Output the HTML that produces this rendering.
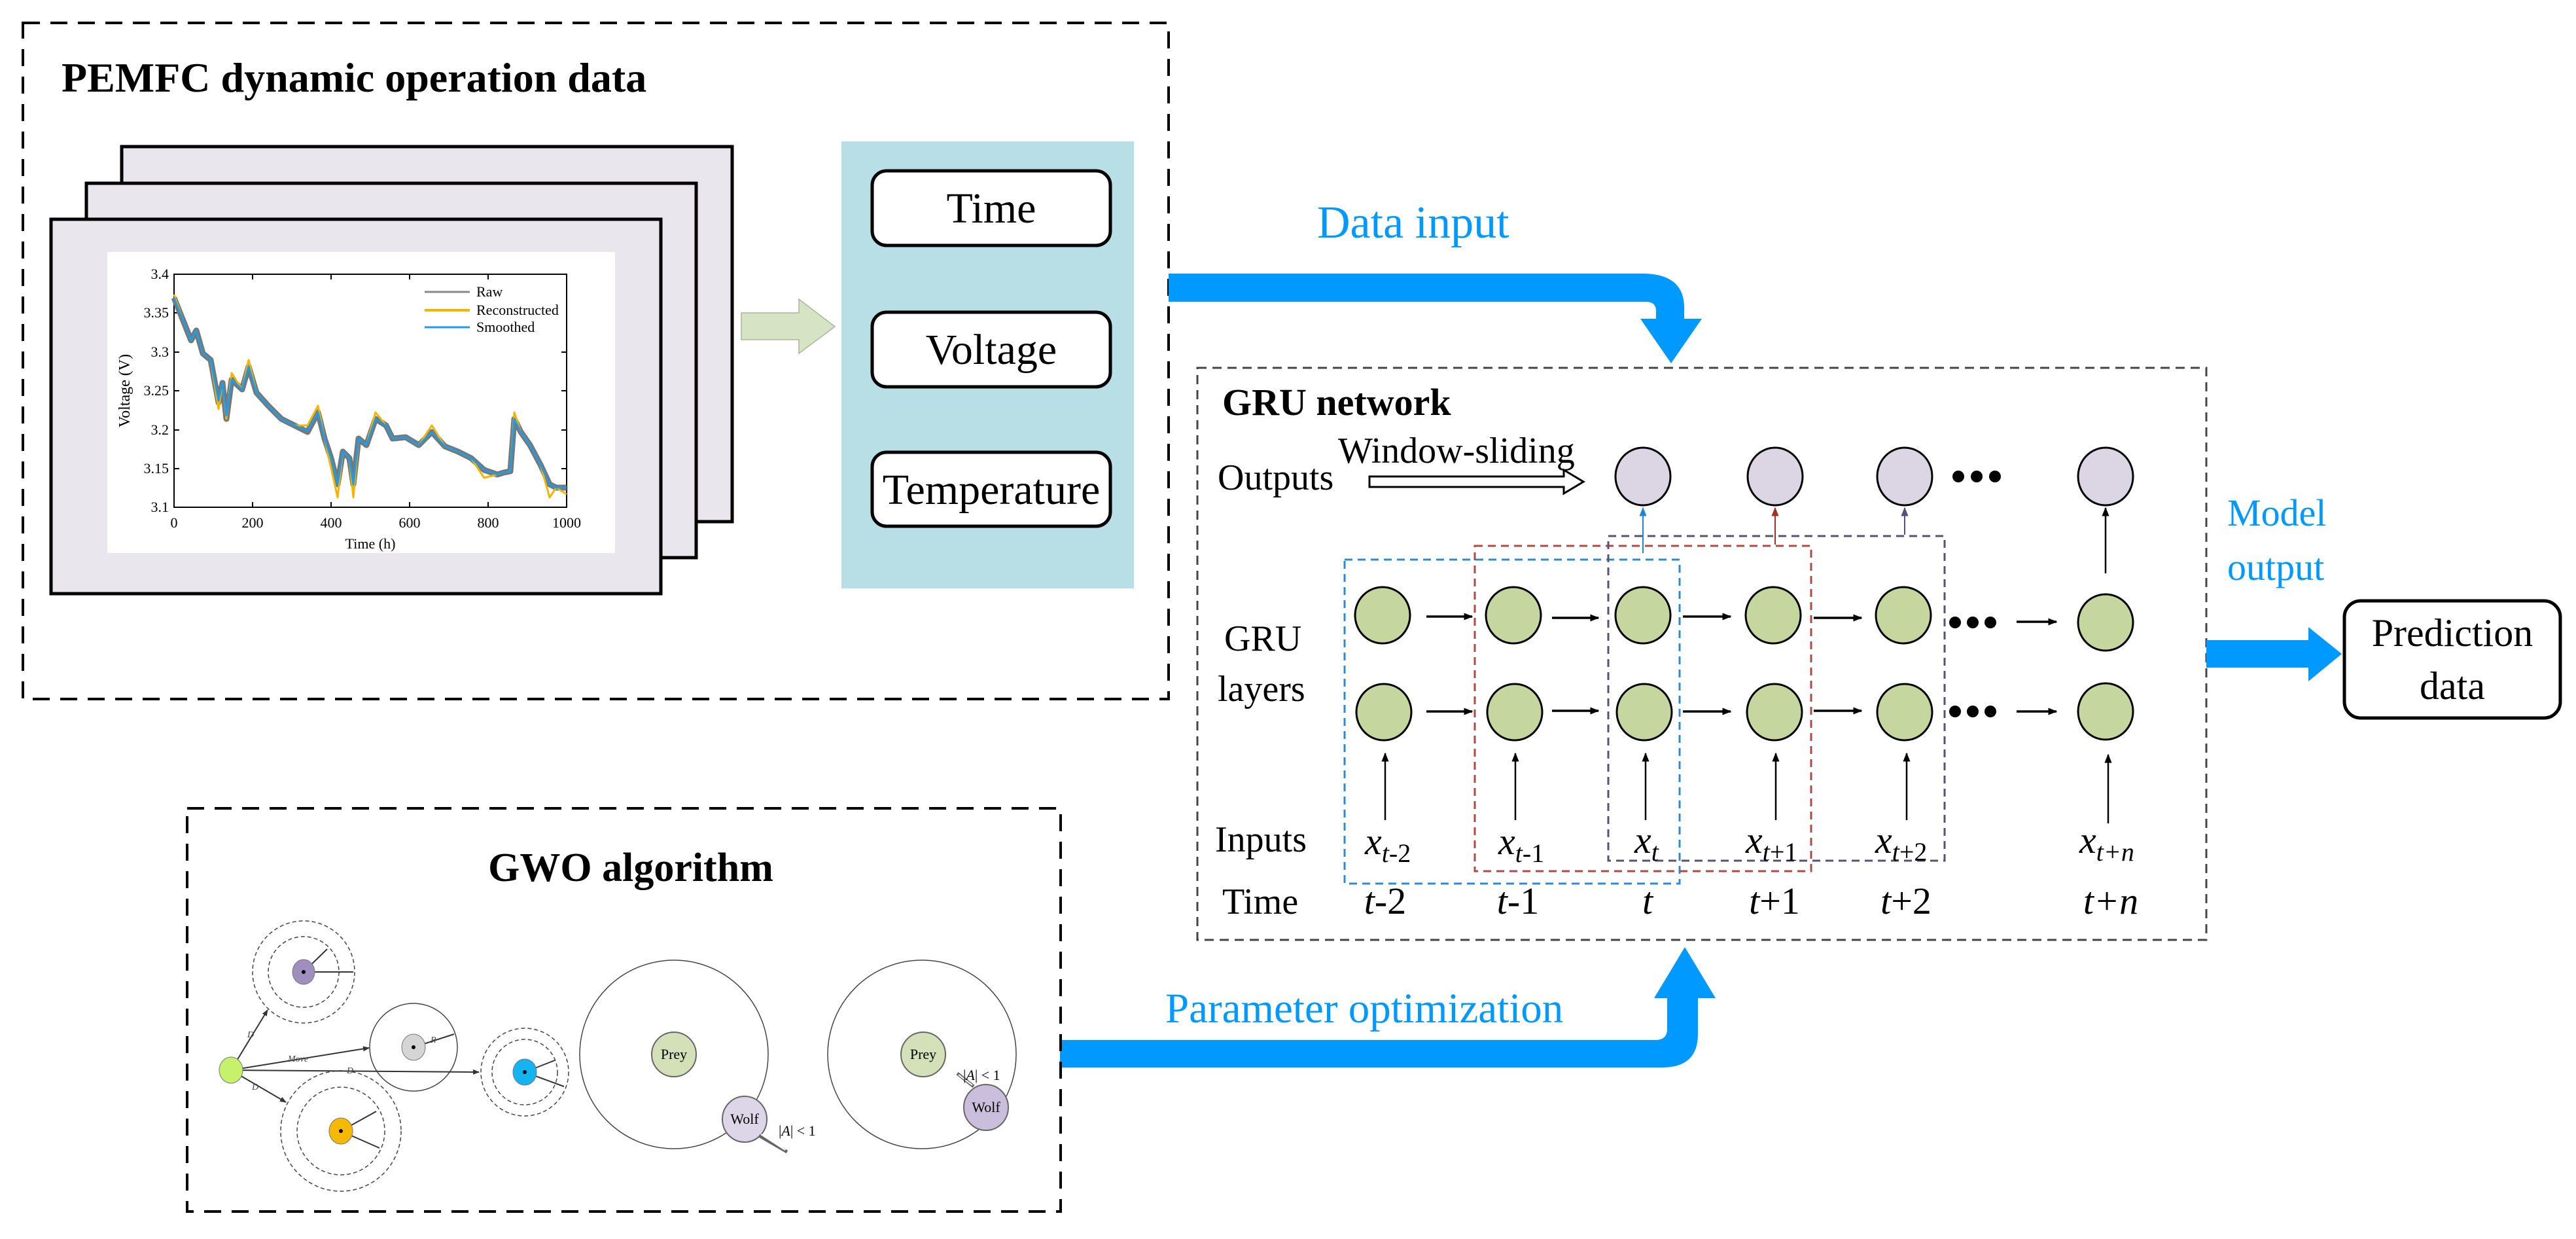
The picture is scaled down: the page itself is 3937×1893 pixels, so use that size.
<!DOCTYPE html>
<html><head><meta charset="utf-8"><style>
html,body{margin:0;padding:0;background:#fff;}
svg{display:block;font-family:"Liberation Serif","Times New Roman",serif;}
svg text{font-family:"Liberation Serif","Times New Roman",serif;}
</style></head><body>
<svg width="3937" height="1893" viewBox="0 0 3937 1893" xmlns="http://www.w3.org/2000/svg" font-family="'Liberation Serif', serif">
<defs>
<marker id="ahB" viewBox="0 0 10 10" markerWidth="14" markerHeight="14" refX="9" refY="5" orient="auto" markerUnits="userSpaceOnUse"><path d="M0,1 L10,5 L0,9 z" fill="#000"/></marker>
<marker id="ahS" viewBox="0 0 10 10" markerWidth="10" markerHeight="10" refX="9" refY="5" orient="auto" markerUnits="userSpaceOnUse"><path d="M0,1 L10,5 L0,9 z" fill="#333"/></marker>
<marker id="ahBl" viewBox="0 0 10 10" markerWidth="14" markerHeight="14" refX="9" refY="5" orient="auto" markerUnits="userSpaceOnUse"><path d="M0,1 L10,5 L0,9 z" fill="#1f86d6"/></marker>
<marker id="ahR" viewBox="0 0 10 10" markerWidth="14" markerHeight="14" refX="9" refY="5" orient="auto" markerUnits="userSpaceOnUse"><path d="M0,1 L10,5 L0,9 z" fill="#a0302a"/></marker>
<marker id="ahP" viewBox="0 0 10 10" markerWidth="14" markerHeight="14" refX="9" refY="5" orient="auto" markerUnits="userSpaceOnUse"><path d="M0,1 L10,5 L0,9 z" fill="#5a4f78"/></marker>
</defs>

<rect x="35" y="35" width="1751" height="1033" fill="none" stroke="#000" stroke-width="4" stroke-dasharray="26,16"/>
<text x="94" y="140" font-size="64" font-weight="bold">PEMFC dynamic operation data</text>

<rect x="186" y="224" width="933" height="573" fill="#e9e6ee" stroke="#000" stroke-width="5"/>
<rect x="132" y="280" width="932" height="572" fill="#e9e6ee" stroke="#000" stroke-width="5"/>
<rect x="78" y="335" width="932" height="572" fill="#e9e6ee" stroke="#000" stroke-width="5"/>
<rect x="164" y="385" width="776" height="460" fill="#fff"/>
<rect x="266" y="419" width="600" height="356" fill="none" stroke="#000" stroke-width="2"/>
<g font-size="22" text-anchor="end">
<text x="258" y="426">3.4</text><text x="258" y="485">3.35</text><text x="258" y="545">3.3</text><text x="258" y="604">3.25</text><text x="258" y="664">3.2</text><text x="258" y="723">3.15</text><text x="258" y="782">3.1</text>
</g>
<g font-size="22" text-anchor="middle">
<text x="266" y="806">0</text><text x="386" y="806">200</text><text x="506" y="806">400</text><text x="626" y="806">600</text><text x="746" y="806">800</text><text x="866" y="806">1000</text>
<text x="566" y="838">Time (h)</text>
</g>
<text x="0" y="0" font-size="24" text-anchor="middle" transform="translate(198,597) rotate(-90)">Voltage (V)</text>
<g stroke="#000" stroke-width="2">
<line x1="386" y1="775" x2="386" y2="767"/><line x1="506" y1="775" x2="506" y2="767"/><line x1="626" y1="775" x2="626" y2="767"/><line x1="746" y1="775" x2="746" y2="767"/>
<line x1="386" y1="419" x2="386" y2="427"/><line x1="506" y1="419" x2="506" y2="427"/><line x1="626" y1="419" x2="626" y2="427"/><line x1="746" y1="419" x2="746" y2="427"/>
<line x1="266" y1="478" x2="274" y2="478"/><line x1="266" y1="538" x2="274" y2="538"/><line x1="266" y1="597" x2="274" y2="597"/><line x1="266" y1="657" x2="274" y2="657"/><line x1="266" y1="716" x2="274" y2="716"/>
<line x1="866" y1="538" x2="858" y2="538"/><line x1="866" y1="597" x2="858" y2="597"/><line x1="866" y1="657" x2="858" y2="657"/><line x1="866" y1="716" x2="858" y2="716"/>
</g>
<polyline fill="none" stroke="#777" stroke-width="9" stroke-linejoin="round" points="266,455 280,490 292,520 300,505 310,540 322,550 334,615 340,585 346,640 354,580 370,595 380,560 392,600 410,620 430,640 450,650 470,660 486,630 496,670 506,700 516,740 524,690 534,700 540,740 548,670 560,680 574,640 590,650 600,670 620,668 640,680 660,660 680,682 700,690 720,700 740,718 760,725 770,722 780,720 786,640 796,660 810,680 826,710 840,740 850,745 866,745"/>
<polyline fill="none" stroke="#f5b400" stroke-width="3" stroke-linejoin="round" points="266,450 280,490 292,520 300,505 310,540 322,550 334,625 340,585 346,640 354,570 370,595 380,550 392,600 410,620 430,640 450,650 470,650 486,620 496,670 506,715 516,760 524,690 534,700 540,760 548,670 560,680 574,630 590,650 600,670 620,668 640,680 660,650 680,682 700,690 720,700 740,730 760,725 770,722 780,720 786,630 796,660 810,680 826,710 840,760 850,745 866,755"/>
<polyline fill="none" stroke="#1f9be8" stroke-width="3" stroke-linejoin="round" points="266,455 280,490 292,520 300,505 310,540 322,550 334,612 340,585 346,635 354,580 370,595 380,560 392,600 410,620 430,640 450,650 470,658 486,630 496,670 506,700 516,740 524,690 534,700 540,740 548,670 560,680 574,640 590,650 600,670 620,668 640,680 660,660 680,682 700,690 720,700 740,718 760,725 770,722 780,720 786,640 796,660 810,680 826,710 840,740 850,745 866,745"/>
<line x1="649" y1="446" x2="718" y2="446" stroke="#888" stroke-width="3"/>
<line x1="649" y1="474" x2="718" y2="474" stroke="#f5b400" stroke-width="4"/>
<line x1="649" y1="500" x2="718" y2="500" stroke="#1f9be8" stroke-width="3"/>
<g font-size="22"><text x="728" y="453">Raw</text><text x="728" y="481">Reconstructed</text><text x="728" y="507">Smoothed</text></g>

<path d="M1133,478 H1221 V457 L1276,499 L1221,540 V519 H1133 Z" fill="#d6e3c4" stroke="#a8b898" stroke-width="1.5"/>

<rect x="1286" y="216" width="447" height="683" fill="#b8dee6"/>
<g fill="#fff" stroke="#000" stroke-width="5">
<rect x="1333" y="261" width="364" height="114" rx="22"/>
<rect x="1333" y="477" width="364" height="114" rx="22"/>
<rect x="1333" y="691" width="364" height="113" rx="22"/>
</g>
<g font-size="66" text-anchor="middle">
<text x="1515" y="340">Time</text><text x="1515" y="556">Voltage</text><text x="1515" y="770">Temperature</text>
</g>

<path d="M1786,418 H2510 Q2574,418 2574,470 V487 H2601 L2554,555 L2507,487 H2531 V475 Q2531,461 2515,461 H1786 Z" fill="#0099ff"/>
<text x="2013" y="363" font-size="70" fill="#0099ff">Data input</text>

<rect x="1830" y="562" width="1542" height="874" fill="none" stroke="#444" stroke-width="3" stroke-dasharray="14,9"/>
<text x="1868" y="634" font-size="58" font-weight="bold">GRU network</text>
<g font-size="56">
<text x="1861" y="748">Outputs</text>
<text x="2045" y="707">Window-sliding</text>
<text x="1871" y="994">GRU</text>
<text x="1861" y="1071">layers</text>
<text x="1857" y="1301">Inputs</text>
<text x="1868" y="1396">Time</text>
</g>
<path d="M2093,728 H2390 V718 L2420,736 L2390,754 V744 H2093 Z" fill="#fff" stroke="#000" stroke-width="3"/>

<rect x="2055" y="855" width="512" height="495" fill="none" stroke="#2d8ad6" stroke-width="3" stroke-dasharray="12,8"/>
<rect x="2254" y="834" width="514" height="497" fill="none" stroke="#b04a44" stroke-width="3" stroke-dasharray="12,8"/>
<rect x="2458" y="819" width="514" height="496" fill="none" stroke="#5a4f78" stroke-width="3" stroke-dasharray="12,8"/>

<g fill="#dcd6e4" stroke="#000" stroke-width="3">
<ellipse cx="2511" cy="728" rx="42" ry="44"/><ellipse cx="2713" cy="728" rx="42" ry="44"/><ellipse cx="2911" cy="728" rx="42" ry="44"/><ellipse cx="3218" cy="728" rx="42" ry="44"/>
</g>
<g fill="#000"><circle cx="2993" cy="728" r="9"/><circle cx="3021" cy="728" r="9"/><circle cx="3049" cy="728" r="9"/></g>
<line x1="2511" y1="845" x2="2511" y2="776" stroke="#1f86d6" stroke-width="2" marker-end="url(#ahBl)"/>
<line x1="2713" y1="832" x2="2713" y2="776" stroke="#a0302a" stroke-width="2" marker-end="url(#ahR)"/>
<line x1="2911" y1="817" x2="2911" y2="776" stroke="#5a4f78" stroke-width="2" marker-end="url(#ahP)"/>
<line x1="3218" y1="876" x2="3218" y2="776" stroke="#000" stroke-width="2.5" marker-end="url(#ahB)"/>

<g fill="#c5d79f" stroke="#000" stroke-width="3">
<ellipse cx="2113" cy="940" rx="42" ry="43"/><ellipse cx="2313" cy="940" rx="42" ry="43"/><ellipse cx="2511" cy="940" rx="42" ry="43"/><ellipse cx="2710" cy="940" rx="42" ry="43"/><ellipse cx="2909" cy="940" rx="42" ry="43"/><ellipse cx="3218" cy="951" rx="42" ry="43"/>
<ellipse cx="2115" cy="1088" rx="42" ry="43"/><ellipse cx="2315" cy="1088" rx="42" ry="43"/><ellipse cx="2513" cy="1088" rx="42" ry="43"/><ellipse cx="2712" cy="1088" rx="42" ry="43"/><ellipse cx="2911" cy="1088" rx="42" ry="43"/><ellipse cx="3218" cy="1087" rx="42" ry="43"/>
</g>
<g stroke="#000" stroke-width="3.5">
<line x1="2180" y1="942" x2="2250" y2="942" marker-end="url(#ahB)"/>
<line x1="2372" y1="944" x2="2443" y2="944" marker-end="url(#ahB)"/>
<line x1="2572" y1="942" x2="2645" y2="942" marker-end="url(#ahB)"/>
<line x1="2772" y1="944" x2="2845" y2="944" marker-end="url(#ahB)"/>
<line x1="3082" y1="950" x2="3143" y2="950" marker-end="url(#ahB)"/>
<line x1="2180" y1="1087" x2="2250" y2="1087" marker-end="url(#ahB)"/>
<line x1="2372" y1="1086" x2="2443" y2="1086" marker-end="url(#ahB)"/>
<line x1="2572" y1="1087" x2="2645" y2="1087" marker-end="url(#ahB)"/>
<line x1="2772" y1="1086" x2="2845" y2="1086" marker-end="url(#ahB)"/>
<line x1="3082" y1="1087" x2="3143" y2="1087" marker-end="url(#ahB)"/>
</g>
<g fill="#000">
<circle cx="2988" cy="951" r="9"/><circle cx="3015" cy="951" r="9"/><circle cx="3042" cy="951" r="9"/>
<circle cx="2988" cy="1087" r="9"/><circle cx="3015" cy="1087" r="9"/><circle cx="3042" cy="1087" r="9"/>
</g>
<g stroke="#000" stroke-width="2.5">
<line x1="2117" y1="1253" x2="2117" y2="1151" marker-end="url(#ahB)"/>
<line x1="2316" y1="1253" x2="2316" y2="1151" marker-end="url(#ahB)"/>
<line x1="2515" y1="1253" x2="2515" y2="1151" marker-end="url(#ahB)"/>
<line x1="2714" y1="1253" x2="2714" y2="1151" marker-end="url(#ahB)"/>
<line x1="2914" y1="1253" x2="2914" y2="1151" marker-end="url(#ahB)"/>
<line x1="3222" y1="1258" x2="3222" y2="1153" marker-end="url(#ahB)"/>
</g>
<g font-size="58" font-style="italic">
<text x="2086" y="1305">x<tspan font-size="40" dy="12">t</tspan><tspan font-size="40" font-style="normal">-2</tspan></text>
<text x="2290" y="1305">x<tspan font-size="40" dy="12">t</tspan><tspan font-size="40" font-style="normal">-1</tspan></text>
<text x="2498" y="1303">x<tspan font-size="40" dy="12">t</tspan></text>
<text x="2668" y="1303">x<tspan font-size="40" dy="12">t</tspan><tspan font-size="40" font-style="normal">+1</tspan></text>
<text x="2866" y="1303">x<tspan font-size="40" dy="12">t</tspan><tspan font-size="40" font-style="normal">+2</tspan></text>
<text x="3178" y="1303">x<tspan font-size="40" dy="12">t+n</tspan></text>
</g>
<g font-size="58" text-anchor="middle">
<text x="2117" y="1396"><tspan font-style="italic">t</tspan>-2</text>
<text x="2320" y="1396"><tspan font-style="italic">t</tspan>-1</text>
<text x="2518" y="1396" font-style="italic">t</text>
<text x="2712" y="1396"><tspan font-style="italic">t</tspan>+1</text>
<text x="2913" y="1396"><tspan font-style="italic">t</tspan>+2</text>
<text x="3226" y="1396" font-style="italic">t+n</text>
</g>

<g font-size="58" fill="#0099ff"><text x="3404" y="803">Model</text><text x="3404" y="886">output</text></g>
<path d="M3372,978 H3528 V958 L3579,999 L3528,1041 V1020 H3372 Z" fill="#0099ff"/>
<rect x="3583" y="918" width="330" height="179" rx="25" fill="#fff" stroke="#000" stroke-width="5"/>
<g font-size="60" text-anchor="middle"><text x="3748" y="987">Prediction</text><text x="3748" y="1068">data</text></g>

<path d="M1620,1589 H2530 Q2548,1589 2548,1572 V1525 H2528 L2575,1447 L2622,1525 H2595 V1580 Q2595,1631 2540,1631 H1620 Z" fill="#0099ff"/>
<text x="1781" y="1562" font-size="65" fill="#0099ff">Parameter optimization</text>

<rect x="286" y="1235" width="1335" height="616" fill="none" stroke="#000" stroke-width="4" stroke-dasharray="26,16"/>
<text x="964" y="1346" font-size="62" font-weight="bold" text-anchor="middle">GWO algorithm</text>

<g fill="none" stroke="#444" stroke-width="1.5">
<circle cx="464" cy="1485" r="78" stroke-dasharray="6,4"/><circle cx="464" cy="1485" r="54" stroke-dasharray="6,4"/>
<circle cx="632" cy="1600" r="67"/>
<circle cx="802" cy="1638" r="67" stroke-dasharray="6,4"/><circle cx="802" cy="1638" r="50" stroke-dasharray="6,4"/>
<circle cx="521" cy="1728" r="92" stroke-dasharray="6,4"/><circle cx="521" cy="1728" r="67" stroke-dasharray="6,4"/>
<circle cx="1030" cy="1611" r="144"/>
<circle cx="1409" cy="1611" r="144"/>
</g>
<g stroke="#333" stroke-width="2">
<line x1="353" y1="1635" x2="409" y2="1543" marker-end="url(#ahS)"/>
<line x1="353" y1="1635" x2="564" y2="1601" marker-end="url(#ahS)"/>
<line x1="353" y1="1635" x2="732" y2="1638" marker-end="url(#ahS)"/>
<line x1="353" y1="1635" x2="437" y2="1684" marker-end="url(#ahS)"/>
<line x1="464" y1="1485" x2="500" y2="1450"/><line x1="464" y1="1485" x2="540" y2="1485"/>
<line x1="632" y1="1600" x2="694" y2="1580"/>
<line x1="802" y1="1638" x2="848" y2="1620"/><line x1="802" y1="1638" x2="862" y2="1660"/>
<line x1="521" y1="1728" x2="575" y2="1698"/><line x1="521" y1="1728" x2="580" y2="1754"/>
</g>
<ellipse cx="353" cy="1635" rx="18" ry="20" fill="#c5f26a" stroke="#777"/>
<ellipse cx="464" cy="1485" rx="17" ry="19" fill="#9f8fbf" stroke="#777"/>
<ellipse cx="632" cy="1600" rx="18" ry="20" fill="#d5d5d5" stroke="#777"/>
<ellipse cx="802" cy="1638" rx="18" ry="20" fill="#14b4f0" stroke="#777"/>
<ellipse cx="521" cy="1728" rx="18" ry="20" fill="#f6b800" stroke="#777"/>
<g fill="#000"><circle cx="464" cy="1485" r="3"/><circle cx="632" cy="1600" r="3"/><circle cx="802" cy="1638" r="3"/><circle cx="521" cy="1728" r="3"/></g>
<g font-size="14" font-style="italic" fill="#444">
<text x="378" y="1585">D</text><text x="440" y="1622">Move</text><text x="530" y="1640">D</text><text x="385" y="1665">D</text><text x="658" y="1593">R</text>
</g>
<ellipse cx="1030" cy="1611" rx="34" ry="34" fill="#d3e0b8" stroke="#666" stroke-width="2"/>
<ellipse cx="1138" cy="1710" rx="34" ry="35" fill="#dcd6e8" stroke="#666" stroke-width="2"/>
<ellipse cx="1411" cy="1611" rx="34" ry="34" fill="#d3e0b8" stroke="#666" stroke-width="2"/>
<ellipse cx="1507" cy="1692" rx="34" ry="35" fill="#c9bfdc" stroke="#666" stroke-width="2"/>
<g font-size="22" text-anchor="middle"><text x="1030" y="1618">Prey</text><text x="1138" y="1717">Wolf</text><text x="1411" y="1618">Prey</text><text x="1507" y="1699">Wolf</text></g>
<path d="M1160,1735 L1203,1760" stroke="#666" stroke-width="5" fill="none"/>
<path d="M1163,1733 L1200,1757" stroke="#fff" stroke-width="2" fill="none"/>
<path d="M1488,1660 L1463,1640" stroke="#666" stroke-width="5" fill="none"/>
<path d="M1486,1658 L1465,1642" stroke="#fff" stroke-width="2" fill="none"/>
<g font-size="22"><text x="1190" y="1735">|<tspan font-style="italic">A</tspan>| &lt; 1</text><text x="1472" y="1650">|<tspan font-style="italic">A</tspan>| &lt; 1</text></g>
</svg>
</body></html>
